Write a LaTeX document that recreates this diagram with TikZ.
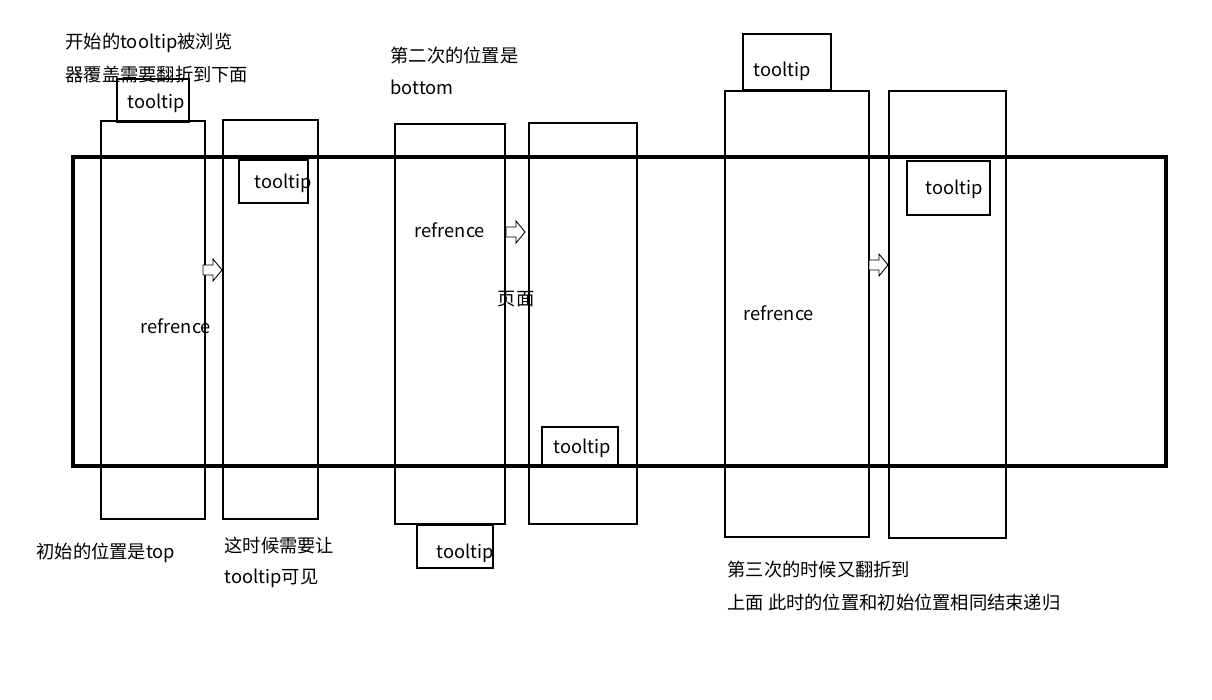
\documentclass[tikz,border=0pt]{standalone}
\usepackage{fontspec}
\setmainfont{Noto Sans CJK SC}
\tikzset{
  note/.style={anchor=west, inner sep=0pt, font=\fontsize{10.4}{12}\selectfont},
  lbl/.style={inner sep=0pt, font=\fontsize{10.4}{12}\selectfont},
  blockarrow/.style={draw, fill=white, line width=0.5pt}
}
\newcommand{\flipto}[2]{% block arrow: left x, middle y
  \draw[blockarrow] (#1,#2-5) -- (#1+10,#2-5) -- (#1+10,#2-11) -- (#1+19,#2)
    -- (#1+10,#2+11) -- (#1+10,#2+5) -- (#1,#2+5) -- cycle;}
\begin{document}
\begin{tikzpicture}[x=0.02cm, y=-0.02cm, line width=0.6pt]
  \useasboundingbox (0,0) rectangle (1212,699);
  % the page
  \draw[line width=2.4pt] (73,157) rectangle (1166,466);
  % first step: top
  \draw (101,121) rectangle (205,519);
  \draw (117,79) rectangle (189,122);
  \node[lbl] (tip1) at (156,103) {tooltip};
  \node[lbl] (ref1) at (176,326) {refrence};
  \flipto{203}{270}
  \draw (223,120) rectangle (318,519);
  \draw (239,160) rectangle (308,203);
  \node[lbl] (tip2) at (283,183) {tooltip};
  % second step: bottom
  \draw (395,124) rectangle (505,524);
  \draw (417,525) rectangle (493,568);
  \node[lbl] (tip3) at (465,553) {tooltip};
  \node[lbl] (ref2) at (450,230) {refrence};
  \flipto{506}{232}
  \draw (529,123) rectangle (637,524);
  \draw (542,427) rectangle (618,465);
  \node[lbl] (tip4) at (582,448) {tooltip};
  \node[lbl] (page) at (516,299) {页面};
  % third step: top again
  \draw (725,91) rectangle (869,537);
  \draw (743,34) rectangle (831,90);
  \node[lbl] (tip5) at (782,71) {tooltip};
  \node[lbl] (ref3) at (779,313) {refrence};
  \flipto{869}{265}
  \draw (889,91) rectangle (1006,538);
  \draw (907,161) rectangle (990,215);
  \node[lbl] (tip6) at (954,189) {tooltip};
  % notes
  \node[note] (n1a) at (65,43) {开始的tooltip被浏览};
  \node[note] (n1b) at (65,75) {器覆盖需要翻折到下面};
  \node[note] (n2a) at (390,56) {第二次的位置是};
  \node[note] (n2b) at (390,87) {bottom};
  \node[note] (n3) at (36,553) {初始的位置是top};
  \node[note] (n4a) at (224,546) {这时候需要让};
  \node[note] (n4b) at (224,578) {tooltip可见};
  \node[note] (n5a) at (727,570) {第三次的时候又翻折到};
  \node[note] (n5b) at (727,603) {上面 此时的位置和初始位置相同结束递归};
\end{tikzpicture}
\end{document}
